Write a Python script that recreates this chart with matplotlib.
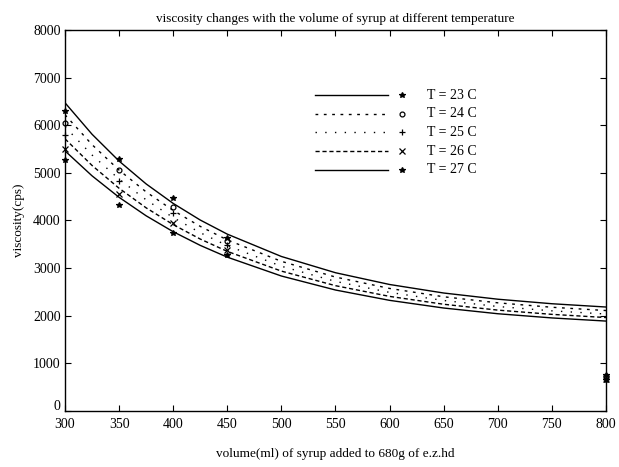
import matplotlib
matplotlib.use("Agg")
import matplotlib.pyplot as plt
from matplotlib.transforms import ScaledTranslation

# Fitted viscosity curves (cps) versus syrup volume (ml)
curve_volume = [300, 325, 350, 375, 400, 425, 450, 500, 550, 600, 650, 700, 750, 800]
curve_t23 = [6470, 5809, 5246, 4766, 4357, 4008, 3712, 3243, 2902, 2655, 2476, 2346, 2251, 2182]
curve_t24 = [6218, 5591, 5056, 4599, 4209, 3875, 3591, 3141, 2811, 2572, 2397, 2270, 2177, 2108]
curve_t25 = [5965, 5373, 4866, 4432, 4060, 3742, 3471, 3038, 2720, 2489, 2319, 2193, 2102, 2035]
curve_t26 = [5713, 5154, 4675, 4264, 3912, 3609, 3350, 2936, 2630, 2405, 2240, 2117, 2028, 1961]
curve_t27 = [5460, 4936, 4485, 4097, 3763, 3476, 3229, 2833, 2539, 2322, 2161, 2041, 1953, 1887]

# Measured viscosities
meas_volume = [300, 350, 400, 450, 800]
meas_t23 = [6300, 5290, 4470, 3630, 760]
meas_t24 = [6050, 5060, 4290, 3560, 730]
meas_t25 = [5800, 4820, 4160, 3480, 700]
meas_t26 = [5500, 4560, 3950, 3380, 670]
meas_t27 = [5270, 4330, 3740, 3280, 640]

labels = ["T = 23 C", "T = 24 C", "T = 25 C", "T = 26 C", "T = 27 C"]
line_styles = ["-", (0, (2, 4)), (0, (1, 6)), (0, (3, 2)), "-"]
markers = ["*", "o", "+", "x", "*"]

x_ticks = [300, 350, 400, 450, 500, 550, 600, 650, 700, 750, 800]
y_ticks = [0, 1000, 2000, 3000, 4000, 5000, 6000, 7000, 8000]

plt.rcParams["font.family"] = ["Liberation Serif", "DejaVu Serif"]

fig = plt.figure(figsize=(6.19, 4.67), dpi=100)
ax = fig.add_axes([0.105, 0.12, 0.874, 0.816])

curves = [curve_t23, curve_t24, curve_t25, curve_t26, curve_t27]
meas = [meas_t23, meas_t24, meas_t25, meas_t26, meas_t27]


def marker_style(mk):
    return dict(marker=mk, color="black",
                markersize=3.5 if mk == "o" else 4,
                markerfacecolor="none" if mk == "o" else "black",
                markeredgewidth=0.9)


for c, m, ls, mk in zip(curves, meas, line_styles, markers):
    ax.plot(curve_volume, c, color="black", linestyle=ls, linewidth=1.0)
    ax.plot(meas_volume, m, linestyle="none", clip_on=False, **marker_style(mk))

# Key: line sample, marker, then label (rows in axes coordinates)
row_y0, row_step = 0.829, 0.049
for i, (lab, ls, mk) in enumerate(zip(labels, line_styles, markers)):
    yy = row_y0 - i * row_step
    ax.plot([0.462, 0.597], [yy, yy], transform=ax.transAxes, color="black",
            linestyle=ls, linewidth=1.0)
    ax.plot([0.623], [yy], transform=ax.transAxes, linestyle="none",
            **marker_style(mk))
    ax.text(0.669, yy, lab, transform=ax.transAxes, fontsize=10,
            va="center", ha="left")

ax.set_xlim(300, 800)
ax.set_ylim(0, 8000)
ax.set_xticks(x_ticks)
ax.set_yticks(y_ticks)
ax.tick_params(direction="in", top=True, right=True, length=4, width=0.8,
               labelsize=10, pad=3)
ax.tick_params(axis="x", pad=5)
for s in ax.spines.values():
    s.set_linewidth(1.0)

# lift the "0" label a little so it clears the first x label
fig.canvas.draw()
zero_label = ax.get_yticklabels()[0]
zero_label.set_transform(zero_label.get_transform()
                         + ScaledTranslation(0, 4 / 72, fig.dpi_scale_trans))

ax.set_title("viscosity changes with the volume of syrup at different temperature",
             fontsize=9.5, pad=6)
ax.set_xlabel("volume(ml) of syrup added to 680g of e.z.hd", fontsize=9.5, labelpad=12)
ax.set_ylabel("viscosity(cps)", fontsize=9.5, labelpad=6)

fig.savefig("out.png", dpi=100)
